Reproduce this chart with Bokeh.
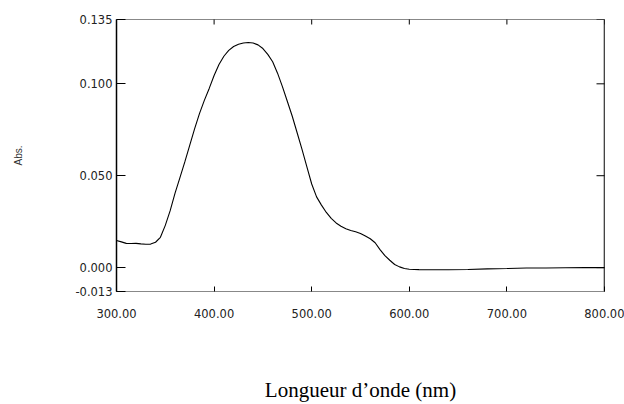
import math
from bokeh.plotting import figure
from bokeh.models import FixedTicker, Range1d, Span
from bokeh.embed import file_html
from bokeh.resources import INLINE

wavelength = [300, 305, 310, 315, 320, 325, 330, 335, 340, 345, 350, 355, 360, 365, 370,
              375, 380, 385, 390, 395, 400, 405, 410, 415, 420, 425, 430, 435, 440, 445,
              450, 455, 460, 465, 470, 475, 480, 485, 490, 495, 500, 505, 510, 515, 520,
              525, 530, 535, 540, 545, 550, 555, 560, 565, 570, 575, 580, 585, 590, 595,
              600, 610, 620, 640, 660, 680, 700, 720, 740, 760, 780, 800]
absorbance = [0.0148, 0.0140, 0.0132, 0.0131, 0.0132, 0.0129, 0.0127, 0.0128, 0.0138, 0.0165,
              0.0230, 0.0310, 0.0405, 0.0490, 0.0575, 0.0665, 0.0755, 0.0838, 0.0910, 0.0975,
              0.1045, 0.1105, 0.1150, 0.1182, 0.1203, 0.1215, 0.1222, 0.1225, 0.1222, 0.1212,
              0.1192, 0.1160, 0.1120, 0.1058, 0.0985, 0.0905, 0.0825, 0.0735, 0.0645, 0.0550,
              0.0455, 0.0385, 0.0340, 0.0300, 0.0268, 0.0243, 0.0225, 0.0212, 0.0202, 0.0195,
              0.0186, 0.0172, 0.0157, 0.0135, 0.0098, 0.0065, 0.0040, 0.0017, 0.0004, -0.0005,
              -0.0009, -0.0011, -0.0012, -0.0012, -0.0010, -0.0007, -0.0005, -0.0002, -0.0002,
              -0.0001, 0.0000, 0.0000]

x_ticks = [300, 400, 500, 600, 700, 800]
x_tick_labels = ["300.00", "400.00", "500.00", "600.00", "700.00", "800.00"]
y_ticks = [-0.013, 0.0, 0.05, 0.1, 0.135]
y_tick_labels = ["-0.013", "0.000", "0.050", "0.100", "0.135"]
x_title = "Longueur d\u2019onde (nm)"
y_title = "Abs."
x_min, x_max = 300, 800
y_min, y_max = -0.013, 0.135

p = figure(width=624, height=404, x_range=Range1d(x_min, x_max), y_range=Range1d(y_min, y_max),
           output_backend="svg", toolbar_location=None,
           min_border_left=116, min_border_right=20, min_border_top=19, min_border_bottom=113)
p.grid.visible = False
p.outline_line_color = "#888888"
p.background_fill_color = "white"
p.border_fill_color = "white"

p.line(wavelength, absorbance, line_color="black", line_width=1.1)

# right border (black) and inward ticks on top / right edges
p.add_layout(Span(location=x_max, dimension="height", line_color="black", line_width=1.5))
p.scatter([x_max] * len(y_ticks), y_ticks, marker="dash", size=16,
          line_color="black", line_width=1)
p.scatter(x_ticks, [y_max] * len(x_ticks), marker="dash", angle=math.pi / 2, size=10,
          line_color="black", line_width=1)

tick_font = "DejaVu Sans"

xa = p.xaxis[0]
xa.ticker = FixedTicker(ticks=x_ticks)
xa.major_label_overrides = {float(t): l for t, l in zip(x_ticks, x_tick_labels)}
xa.minor_tick_line_color = None
xa.major_tick_in = 5
xa.major_tick_out = 0
xa.axis_line_color = "#888888"
xa.major_tick_line_color = "black"
xa.major_label_text_font = tick_font
xa.major_label_text_font_size = "11.5px"
xa.major_label_text_color = "#222222"
xa.major_label_standoff = 17
xa.axis_label = x_title
xa.axis_label_text_font = "Liberation Serif"
xa.axis_label_text_font_style = "normal"
xa.axis_label_text_font_size = "21px"
xa.axis_label_text_color = "black"
xa.axis_label_standoff = 57

ya = p.yaxis[0]
ya.ticker = FixedTicker(ticks=y_ticks)
ya.major_label_overrides = {float(t): l for t, l in zip(y_ticks, y_tick_labels)}
ya.minor_tick_line_color = None
ya.major_tick_in = 9
ya.major_tick_out = 0
ya.axis_line_color = "black"
ya.axis_line_width = 1.5
ya.major_tick_line_color = "black"
ya.major_label_text_font = tick_font
ya.major_label_text_font_size = "11.5px"
ya.major_label_text_color = "#222222"
ya.major_label_standoff = 4
ya.axis_label = y_title
ya.axis_label_text_font = "Liberation Sans"
ya.axis_label_text_font_style = "normal"
ya.axis_label_text_font_size = "10px"
ya.axis_label_text_color = "#333333"
ya.axis_label_standoff = 48

open("out.html", "w").write(file_html(p, INLINE))
